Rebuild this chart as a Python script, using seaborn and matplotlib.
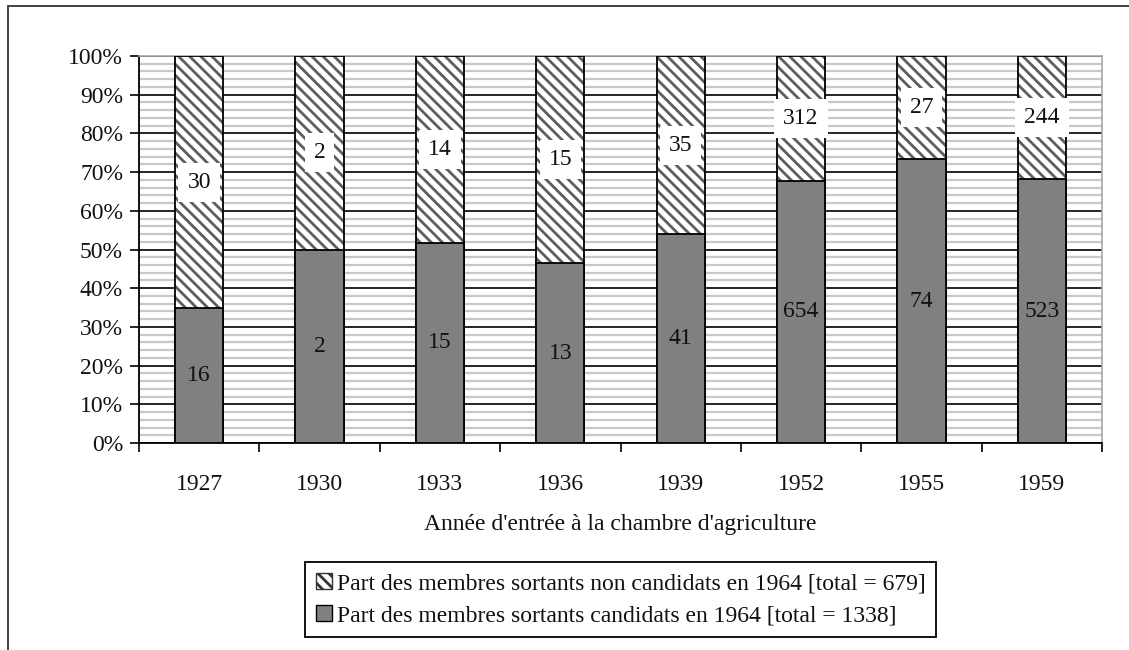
import matplotlib
matplotlib.use("Agg")
import matplotlib.pyplot as plt
import numpy as np
import pandas as pd
import seaborn as sns
from matplotlib.patches import Patch, Rectangle
from matplotlib.ticker import MultipleLocator

# Data: outgoing members of the chamber by year of entry
years = ["1927", "1930", "1933", "1936", "1939", "1952", "1955", "1959"]
candidats = [16, 2, 15, 13, 41, 654, 74, 523]
non_candidats = [30, 2, 14, 15, 35, 312, 27, 244]
label_non = "Part des membres sortants non candidats en 1964 [total = 679]"
label_cand = "Part des membres sortants candidats en 1964 [total = 1338]"
xlabel = "Année d'entrée à la chambre d'agriculture"
ytick_values = list(range(0, 101, 10))

sns.set_theme(style="white")
plt.rcParams["font.family"] = ["Liberation Serif", "DejaVu Serif"]
plt.rcParams["hatch.linewidth"] = 2.0

HATCH = "\\\\\\"
HATCH_COLOR = "#5e5e5e"
GREY = "#808080"
TXT = "#111111"
FS = 17

df = pd.DataFrame({"annee": years, "cand": candidats, "non": non_candidats})
df["total"] = df["cand"] + df["non"]
df["pct_cand"] = df["cand"] / df["total"] * 100
df["pct_all"] = df["total"] / df["total"] * 100

fig = plt.figure(figsize=(11.29, 6.5), dpi=100)
ax = fig.add_axes([139 / 1129, 1 - 443 / 650, 963 / 1129, 387 / 650])

# full-height hatched bars (non candidates on top of the stack)
sns.barplot(data=df, x="annee", y="pct_all", color="white", saturation=1,
            width=0.4, errorbar=None, ax=ax, edgecolor=HATCH_COLOR,
            linewidth=0, hatch=HATCH, zorder=3)
# black outline of the full bars
sns.barplot(data=df, x="annee", y="pct_all", color="black", saturation=1,
            width=0.4, errorbar=None, ax=ax, fill=False, linewidth=1.3,
            zorder=4)
# candidates share at the bottom
sns.barplot(data=df, x="annee", y="pct_cand", color=GREY, saturation=1,
            width=0.4, errorbar=None, ax=ax, edgecolor="black",
            linewidth=1.3, zorder=5)

for i, row in df.iterrows():
    ax.text(i, row["pct_cand"] / 2, str(row["cand"]), ha="center",
            va="center", fontsize=FS, color=TXT, zorder=6)
    ax.text(i, (row["pct_cand"] + 100) / 2, str(row["non"]), ha="center",
            va="center", fontsize=FS, color=TXT, zorder=6,
            bbox=dict(boxstyle="square,pad=0.38", fc="white", ec="none"))

# axes, ticks and grid
ax.set_xlim(-0.5, len(years) - 0.5)
ax.set_ylim(0, 100)
ax.set_yticks(ytick_values)
ax.set_yticklabels([f"{v}%" for v in ytick_values])
ax.yaxis.set_minor_locator(MultipleLocator(2))
ax.set_axisbelow(True)
ax.grid(axis="y", which="minor", color="#c8c8c8", linewidth=1.6)
ax.grid(axis="y", which="major", color="black", linewidth=1.2)
ax.grid(axis="x", visible=False)

ax.set_xticks(np.arange(len(years)), minor=True)
ax.set_xticklabels(years, minor=True)
ax.set_xticks(np.arange(-0.5, len(years), 1))
ax.set_xticklabels([""] * (len(years) + 1))

ax.tick_params(axis="y", which="major", left=True, length=6.5, width=1.2,
               color="black", pad=5, labelsize=FS, labelcolor=TXT)
ax.tick_params(axis="y", which="minor", left=False, length=0)
ax.tick_params(axis="x", which="major", bottom=True, length=6.5, width=1.2,
               color="black", direction="out")
ax.tick_params(axis="x", which="minor", bottom=True, length=0, pad=22,
               labelsize=FS, labelcolor=TXT)

ax.set_xlabel(xlabel, fontsize=FS, color=TXT, labelpad=14)
ax.set_ylabel("")

for side in ("left", "bottom"):
    ax.spines[side].set_color("black")
    ax.spines[side].set_linewidth(1.3)
for side in ("top", "right"):
    ax.spines[side].set_color("#a8a8a8")
    ax.spines[side].set_linewidth(1.2)

handles = [
    Patch(facecolor="white", edgecolor="#333333", hatch=HATCH, linewidth=1),
    Patch(facecolor=GREY, edgecolor="black", linewidth=1),
]
leg = fig.legend(handles, [label_non, label_cand], loc="upper center",
                 bbox_to_anchor=(620.5 / 1129, 1 - 562 / 650), frameon=True,
                 fancybox=False, edgecolor="black", framealpha=1,
                 fontsize=FS, handlelength=0.7, handleheight=0.7,
                 handletextpad=0.2, borderpad=0.45, labelspacing=0.45,
                 borderaxespad=0)
leg.get_frame().set_linewidth(1.3)
for t in leg.get_texts():
    t.set_color(TXT)

# outer frame around the figure
fig.add_artist(Rectangle((8 / 1129, -0.2), 1.2, 1.2 - 6 / 650,
                         transform=fig.transFigure, fill=False,
                         edgecolor="#333333", linewidth=1.3))

fig.savefig("out.png", dpi=100)
